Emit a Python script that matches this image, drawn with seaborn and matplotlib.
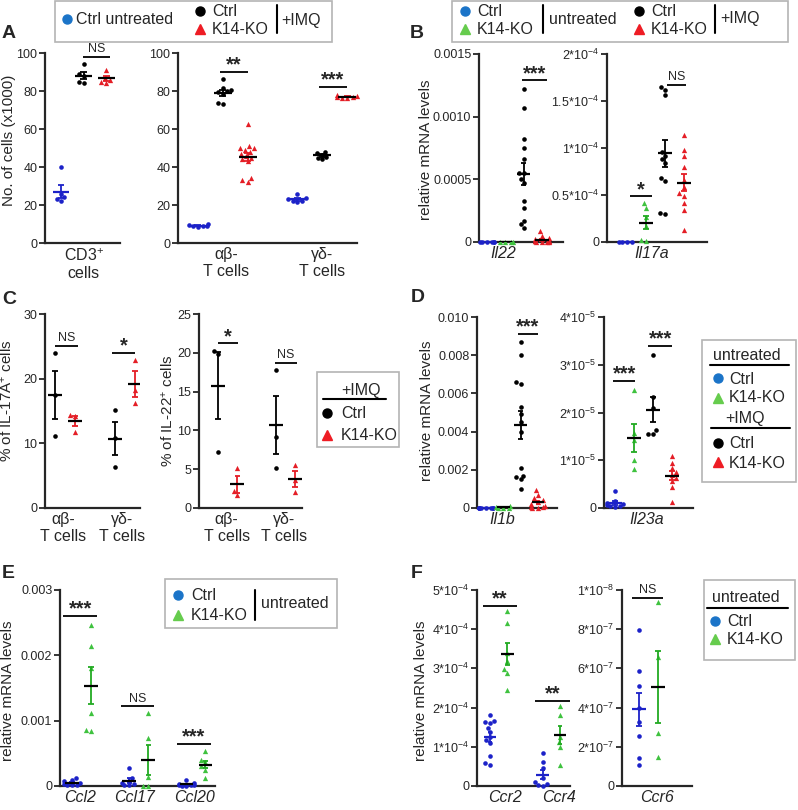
import numpy as np
import matplotlib
matplotlib.use("Agg")
import matplotlib.pyplot as plt
import seaborn as sns
from matplotlib.patches import Rectangle

sns.set_style("ticks")
plt.rcParams["font.family"] = ["Liberation Sans", "DejaVu Sans"]
plt.rcParams["mathtext.fontset"] = "custom"
plt.rcParams["mathtext.rm"] = "Liberation Sans"
plt.rcParams["mathtext.it"] = "Liberation Sans:italic"
plt.rcParams["mathtext.bf"] = "Liberation Sans:bold"

# ---------------- data ----------------
# Panel A: No. of cells (x1000)
A_cd3_ctrl_untr = [40, 26, 24, 22, 23]
A_cd3_ctrl_imq = [94, 89, 84, 85, 88]
A_cd3_ko_imq = [91, 87, 86, 84, 85]
A_ab_ctrl_untr = [9.5, 9.0, 8.5, 10.0, 9.0, 8.8]
A_ab_ctrl_imq = [86.5, 81.5, 80.5, 80.0, 79.5, 78.5, 73.5, 73.0]
A_ab_ko_imq = [62.5, 51, 50, 50, 49, 48, 47, 46, 45, 44, 43, 34, 33, 32]
A_gd_ctrl_untr = [26, 23.5, 23, 22, 22, 21.5]
A_gd_ctrl_imq = [48, 47.5, 46.5, 45.5, 44, 45]
A_gd_ko_imq = [78, 77.5, 77, 76.5, 76.5, 77]
A_yticks = [0, 20, 40, 60, 80, 100]
A1_xlabels = ["CD3$^{+}$\ncells"]
A2_xlabels = ["αβ-\nT cells", "γδ-\nT cells"]

# Panel B: relative mRNA levels
B_il22_ctrl_untr = [2e-6, 1e-6, 1.5e-6, 0.5e-6, 1e-6, 2e-6]
B_il22_ko_untr = [1e-6, 0.5e-6, 1.5e-6, 1e-6]
B_il22_ctrl_imq = [0.00122, 0.00107, 0.00082, 0.00075, 0.00066, 0.00055, 0.00055,
                   0.00050, 0.00047, 0.00033, 0.00027, 0.00017, 0.00014, 0.00011]
B_il22_ko_imq = [9e-5, 5e-5, 3e-5, 2e-5, 1e-5, 5e-6, 3e-6, 2e-6, 1e-6, 1e-5, 5e-6, 3e-6]
B_il17a_ctrl_untr = [2e-7, 1e-7, 3e-7, 2e-7]
B_il17a_ko_untr = [4.1e-5, 3.6e-5, 2.7e-5, 1.7e-5, 2e-6, 1e-6]
B_il17a_ctrl_imq = [1.65e-4, 1.62e-4, 1.56e-4, 9.6e-5, 9.2e-5, 8.8e-5, 8.4e-5, 6.8e-5, 6.5e-5, 3.1e-5, 3.0e-5]
B_il17a_ko_imq = [1.14e-4, 9.8e-5, 9.1e-5, 8.0e-5, 6.6e-5, 5.8e-5, 5.2e-5, 4.9e-5, 4.1e-5, 3.4e-5, 1.3e-5]
B1_yticks = [0, 0.0005, 0.0010, 0.0015]
B1_yticklabels = ["0", "0.0005", "0.0010", "0.0015"]
B2_yticks = [0, 0.5e-4, 1e-4, 1.5e-4, 2e-4]
B2_yticklabels = ["0", "0.5*10$^{-4}$", "1*10$^{-4}$", "1.5*10$^{-4}$", "2*10$^{-4}$"]

# Panel C: % of cytokine+ cells
C_il17_ab_ctrl = [24.0, 17.4, 11.2]
C_il17_ab_ko = [14.4, 14.2, 11.8]
C_il17_gd_ctrl = [15.1, 10.8, 6.3]
C_il17_gd_ko = [22.9, 18.3, 16.3]
C_il22_ab_ctrl = [20.2, 19.9, 7.2]
C_il22_ab_ko = [5.2, 2.2, 1.7]
C_il22_gd_ctrl = [17.8, 9.2, 5.1]
C_il22_gd_ko = [5.5, 3.6, 2.0]
C1_yticks = [0, 10, 20, 30]
C2_yticks = [0, 5, 10, 15, 20, 25]
C_xlabels = ["αβ-\nT cells", "γδ-\nT cells"]

# Panel D
D_il1b_ctrl_untr = [2e-5, 1e-5, 0.5e-5, 1e-5, 0.8e-5, 1.5e-5, 0.5e-5, 1e-5]
D_il1b_ko_untr = [8e-5, 4e-5, 2e-5, 1e-5, 0.5e-5]
D_il1b_ctrl_imq = [0.0087, 0.0080, 0.0066, 0.0065, 0.0053, 0.0049, 0.0045, 0.0040,
                   0.0021, 0.0017, 0.0016, 0.0015, 0.0010]
D_il1b_ko_imq = [0.00095, 0.0007, 0.0005, 0.0004, 0.0003, 0.0002, 0.0001, 5e-5, 3e-5, 2e-5, 1e-5]
D_il23a_ctrl_untr = [3.6e-6, 1.5e-6, 1.0e-6, 0.8e-6, 0.6e-6, 0.5e-6, 0.4e-6, 0.3e-6]
D_il23a_ko_untr = [2.48e-5, 1.57e-5, 1.43e-5, 1.0e-5, 0.82e-5]
D_il23a_ctrl_imq = [3.21e-5, 2.33e-5, 2.09e-5, 1.63e-5, 1.55e-5, 1.55e-5]
D_il23a_ko_imq = [1.08e-5, 0.94e-5, 0.83e-5, 0.75e-5, 0.70e-5, 0.63e-5, 0.56e-5, 0.45e-5, 0.13e-5]
D1_yticks = [0, 0.002, 0.004, 0.006, 0.008, 0.010]
D1_yticklabels = ["0", "0.002", "0.004", "0.006", "0.008", "0.010"]
D2_yticks = [0, 1e-5, 2e-5, 3e-5, 4e-5]
D2_yticklabels = ["0", "1*10$^{-5}$", "2*10$^{-5}$", "3*10$^{-5}$", "4*10$^{-5}$"]

# Panel E
E_ccl2_ctrl = [0.00013, 0.00009, 0.00007, 0.00005, 0.00003, 0.00002, 0.00001, 0.00001]
E_ccl2_ko = [0.00247, 0.00214, 0.0018, 0.00111, 0.00086, 0.00084]
E_ccl17_ctrl = [0.00027, 0.00013, 0.00008, 0.00005, 0.00003, 0.00001, 0.00001]
E_ccl17_ko = [0.00112, 0.00074, 0.00014, 0.0, 0.0]
E_ccl20_ctrl = [0.00009, 0.00005, 0.00003, 0.00002, 0.00001, 0.00001, 0.0, 0.0]
E_ccl20_ko = [0.00053, 0.0004, 0.00036, 0.0003, 0.00025, 0.00013]
E_yticks = [0, 0.001, 0.002, 0.003]
E_yticklabels = ["0", "0.001", "0.002", "0.003"]
E_xlabels = ["Ccl2", "Ccl17", "Ccl20"]

# Panel F
F_ccr2_ctrl = [1.80e-4, 1.65e-4, 1.62e-4, 1.60e-4, 1.48e-4, 1.37e-4, 1.25e-4, 1.18e-4,
               1.10e-4, 0.77e-4, 0.58e-4, 0.54e-4]
F_ccr2_ko = [4.47e-4, 4.17e-4, 3.40e-4, 3.20e-4, 2.98e-4, 2.88e-4, 2.45e-4]
F_ccr4_ctrl = [0.84e-4, 0.62e-4, 0.45e-4, 0.20e-4, 0.10e-4, 0.05e-4, 0.02e-4, 0.01e-4]
F_ccr4_ko = [2.03e-4, 1.82e-4, 1.26e-4, 1.13e-4, 1.0e-4, 0.54e-4]
F_ccr6_ctrl = [7.95e-7, 5.89e-7, 5.10e-7, 4.0e-7, 3.29e-7, 2.53e-7, 1.42e-7, 1.08e-7]
F_ccr6_ko = [9.4e-7, 6.6e-7, 2.7e-7, 1.5e-7]
F1_yticks = [0, 1e-4, 2e-4, 3e-4, 4e-4, 5e-4]
F1_yticklabels = ["0", "1*10$^{-4}$", "2*10$^{-4}$", "3*10$^{-4}$", "4*10$^{-4}$", "5*10$^{-4}$"]
F2_yticks = [0, 2e-7, 4e-7, 6e-7, 8e-7, 1e-6]
F2_yticklabels = ["0", "2*10$^{-7}$", "4*10$^{-7}$", "6*10$^{-7}$", "8*10$^{-7}$", "1*10$^{-8}$"]
F1_xlabels = ["Ccr2", "Ccr4"]
F2_xlabels = ["Ccr6"]

# ---------------- style ----------------
W, H = 798, 810
STY = {
    "cu": dict(color="#1c22c8", marker="o", err="#1c22c8", size=3.3),
    "ku": dict(color="#3fc23f", marker="^", err="#22aa22", size=3.8),
    "ci": dict(color="black", marker="o", err="black", size=3.3),
    "ki": dict(color="#e41e26", marker="^", err="#e41e26", size=3.8),
}
LEG = {
    "cu": ("#1b74c8", "o", 6.5),
    "ku": ("#66cc4d", "^", 7.5),
    "ci": ("black", "o", 6.5),
    "ki": ("#ee1c24", "^", 7.5),
}

fig = plt.figure(figsize=(W / 100, H / 100), dpi=100)


def px_axes(x0, x1, y0, y1):
    return fig.add_axes([x0 / W, 1 - y1 / H, (x1 - x0) / W, (y1 - y0) / H])


def draw_group(ax, pos, vals, key, mean_color="black"):
    s = STY[key]
    vals = np.asarray(vals, dtype=float)
    sns.swarmplot(x=np.full(len(vals), float(pos)), y=vals, ax=ax, native_scale=True,
                  orient="x", color=s["color"], marker=s["marker"], size=s["size"],
                  linewidth=0, warn_thresh=1, zorder=3, clip_on=False)
    m = vals.mean()
    se = vals.std(ddof=1) / np.sqrt(len(vals))
    ax.vlines(pos, m - se, m + se, color=s["err"], lw=1.3, zorder=4)
    ax.hlines([m - se, m + se], pos - 0.14, pos + 0.14, color=s["err"], lw=1.3, zorder=4)
    ax.hlines(m, pos - 0.36, pos + 0.36, color=mean_color, lw=1.6, zorder=5)


def sig(ax, x1, x2, y, txt):
    ax.plot([x1, x2], [y, y], color="k", lw=1.3, clip_on=False, solid_capstyle="butt")
    xm = (x1 + x2) / 2
    if txt == "NS":
        ax.annotate(txt, (xm, y), xytext=(0, 1.2), textcoords="offset points",
                    ha="center", va="bottom", fontsize=9, annotation_clip=False)
    else:
        ax.annotate(txt, (xm, y), xytext=(0, 1.0), textcoords="offset points",
                    ha="center", va="baseline", fontsize=14.5, fontweight="bold",
                    annotation_clip=False)


def panel(box, groups, xlim, ylim, yticks, yticklabels, xticks, xticklabels,
          italic=False, sigs=(), blue_mean="#1c22c8"):
    ax = px_axes(*box)
    for pos, vals, key in groups:
        mc = blue_mean if key == "cu" else "black"
        draw_group(ax, pos, vals, key, mean_color=mc)
    for x1, x2, y, t in sigs:
        sig(ax, x1, x2, y, t)
    ax.set_xlim(*xlim)
    ax.set_ylim(*ylim)
    ax.set_yticks(yticks)
    ax.set_yticklabels(yticklabels, fontsize=9)
    ax.set_xticks(xticks)
    ax.set_xticklabels(xticklabels, fontsize=11.5,
                       fontstyle="italic" if italic else "normal", linespacing=1.15)
    ax.tick_params(axis="x", length=0, pad=3)
    ax.tick_params(axis="y", length=4, width=1.3, pad=1.5, direction="out")
    for s in ["top", "right"]:
        ax.spines[s].set_visible(False)
    for s in ["left", "bottom"]:
        ax.spines[s].set_linewidth(1.6)
    ax.set_facecolor("none")
    ax.set_xlabel("")
    ax.set_ylabel("")
    return ax


# ---------------- panels ----------------
panel((45, 120, 53, 243),
      [(0, A_cd3_ctrl_untr, "cu"), (1, A_cd3_ctrl_imq, "ci"), (2, A_cd3_ko_imq, "ki")],
      (-0.7, 2.6), (0, 100), A_yticks, [str(v) for v in A_yticks], [1], A1_xlabels,
      sigs=[(0.97, 2.15, 98, "NS")])

panel((178, 357, 53, 243),
      [(0, A_ab_ctrl_untr, "cu"), (1, A_ab_ctrl_imq, "ci"), (2, A_ab_ko_imq, "ki"),
       (4, A_gd_ctrl_untr, "cu"), (5, A_gd_ctrl_imq, "ci"), (6, A_gd_ko_imq, "ki")],
      (-0.8, 6.4), (0, 100), A_yticks, [str(v) for v in A_yticks], [1.15, 5.0], A2_xlabels,
      sigs=[(0.89, 2.0, 90, "**"), (4.86, 6.0, 82, "***")])

panel((479, 563, 54, 242),
      [(0, B_il22_ctrl_untr, "cu"), (1, B_il22_ko_untr, "ku"), (2, B_il22_ctrl_imq, "ci"),
       (3, B_il22_ko_imq, "ki")],
      (-0.44, 4.15), (0, 0.0015), B1_yticks, B1_yticklabels, [0.87], ["Il22"], italic=True,
      sigs=[(1.9, 3.3, 0.00129, "***")])

panel((607, 707, 54, 242),
      [(0, B_il17a_ctrl_untr, "cu"), (1, B_il17a_ko_untr, "ku"), (2, B_il17a_ctrl_imq, "ci"),
       (3, B_il17a_ko_imq, "ki")],
      (-1.05, 4.2), (0, 2e-4), B2_yticks, B2_yticklabels, [1.3], ["Il17a"], italic=True,
      sigs=[(0.16, 1.3, 0.486e-4, "*"), (2.1, 3.1, 1.67e-4, "NS")])

panel((45, 140, 314, 508),
      [(0, C_il17_ab_ctrl, "ci"), (1, C_il17_ab_ko, "ki"), (3, C_il17_gd_ctrl, "ci"),
       (4, C_il17_gd_ko, "ki")],
      (-0.5, 4.25), (0, 30), C1_yticks, [str(v) for v in C1_yticks], [0.4, 3.35], C_xlabels,
      sigs=[(0.0, 1.15, 25.1, "NS"), (2.85, 4.0, 24.0, "*")])

panel((199, 302, 314, 508),
      [(0, C_il22_ab_ctrl, "ci"), (1, C_il22_ab_ko, "ki"), (3, C_il22_gd_ctrl, "ci"),
       (4, C_il22_gd_ko, "ki")],
      (-0.99, 4.36), (0, 25), C2_yticks, [str(v) for v in C2_yticks], [0.45, 3.45], C_xlabels,
      sigs=[(0.0, 1.05, 21.2, "*"), (2.96, 4.1, 18.7, "NS")])

panel((477, 557, 317, 508),
      [(0, D_il1b_ctrl_untr, "cu"), (1, D_il1b_ko_untr, "ku"), (2, D_il1b_ctrl_imq, "ci"),
       (3, D_il1b_ko_imq, "ki")],
      (-0.52, 4.1), (0, 0.010), D1_yticks, D1_yticklabels, [0.92], ["Il1b"], italic=True,
      sigs=[(1.85, 3.0, 0.0091, "***")])

panel((604, 693, 317, 508),
      [(0, D_il23a_ctrl_untr, "cu"), (1, D_il23a_ko_untr, "ku"), (2, D_il23a_ctrl_imq, "ci"),
       (3, D_il23a_ko_imq, "ki")],
      (-0.58, 4.1), (0, 4e-5), D2_yticks, D2_yticklabels, [1.68], ["Il23a"], italic=True,
      sigs=[(-0.1, 1.05, 2.66e-5, "***"), (1.75, 3.0, 3.39e-5, "***")])

panel((60, 215, 590, 786),
      [(0, E_ccl2_ctrl, "cu"), (1, E_ccl2_ko, "ku"), (3, E_ccl17_ctrl, "cu"),
       (4, E_ccl17_ko, "ku"), (6, E_ccl20_ctrl, "cu"), (7, E_ccl20_ko, "ku")],
      (-0.63, 7.5), (0, 0.003), E_yticks, E_yticklabels, [0.4, 3.3, 6.45], E_xlabels,
      italic=True, blue_mean="black",
      sigs=[(-0.47, 1.32, 0.0026, "***"), (2.57, 4.3, 0.00122, "NS"), (5.5, 7.3, 0.00065, "***")])

panel((477, 570, 590, 786),
      [(0, F_ccr2_ctrl, "cu"), (1, F_ccr2_ko, "ku"), (3, F_ccr4_ctrl, "cu"), (4, F_ccr4_ko, "ku")],
      (-0.74, 4.57), (0, 5e-4), F1_yticks, F1_yticklabels, [0.86, 3.95], F1_xlabels, italic=True,
      sigs=[(-0.4, 1.55, 4.6e-4, "**"), (2.6, 4.57, 2.18e-4, "**")])

panel((622, 692, 590, 786),
      [(0, F_ccr6_ctrl, "cu"), (1, F_ccr6_ko, "ku")],
      (-0.9, 2.8), (0, 1e-6), F2_yticks, F2_yticklabels, [0.95], F2_xlabels, italic=True,
      sigs=[(-0.37, 1.26, 9.6e-7, "NS")])

# ---------------- overlay: legends, labels ----------------
ov = fig.add_axes([0, 0, 1, 1], zorder=10)
ov.set_xlim(0, W)
ov.set_ylim(H, 0)
ov.axis("off")


def lbox(x0, y0, x1, y1):
    ov.add_patch(Rectangle((x0, y0), x1 - x0, y1 - y0, facecolor="white",
                           edgecolor="#b4b4b4", lw=1.2, zorder=1))


def lmk(x, y, key):
    c, m, ms = LEG[key]
    ov.plot([x], [y], marker=m, ms=ms, color=c, linestyle="none", zorder=3)


def ltx(x, y, s, ha="left", size=11.5):
    ov.text(x, y, s, ha=ha, va="center", fontsize=size, zorder=3)


def lline(x0, x1, y0, y1):
    ov.plot([x0, x1], [y0, y1], color="black", lw=1.5, zorder=3)


# legend A
lbox(55, 1, 332, 42)
lmk(67, 19, "cu"); ltx(76, 19, "Ctrl untreated")
lmk(200, 11, "ci"); ltx(212, 12, "Ctrl")
lmk(200, 29, "ki"); ltx(212, 30, "K14-KO")
lline(277, 277, 5, 33); ltx(281, 20, "+IMQ")

# legend B
lbox(452, 1, 788, 42)
lmk(465, 11, "cu"); ltx(477, 12, "Ctrl")
lmk(465, 29, "ku"); ltx(477, 30, "K14-KO")
lline(543, 543, 5, 33); ltx(549, 19, "untreated")
lmk(639, 11, "ci"); ltx(651, 12, "Ctrl")
lmk(639, 29, "ki"); ltx(651, 30, "K14-KO")
lline(715, 715, 5, 33); ltx(720, 19, "+IMQ")

# legend C
lbox(317, 372, 399, 447)
ltx(361, 391, "+IMQ", ha="center")
lline(323, 386, 399, 399)
lmk(327, 413, "ci"); ltx(341, 413, "Ctrl")
lmk(327, 435, "ki"); ltx(341, 435, "K14-KO")

# legend D
lbox(702, 340, 796, 482)
ltx(747, 355, "untreated", ha="center")
lline(710, 789, 365, 365)
lmk(718, 378, "cu"); ltx(729, 379, "Ctrl")
lmk(718, 398, "ku"); ltx(729, 398, "K14-KO")
ltx(745, 419, "+IMQ", ha="center")
lline(711, 790, 428, 428)
lmk(718, 443, "ci"); ltx(729, 443, "Ctrl")
lmk(718, 462, "ki"); ltx(729, 463, "K14-KO")

# legend E
lbox(165, 579, 337, 628)
lmk(178, 595, "cu"); ltx(191, 595, "Ctrl")
lmk(178, 615, "ku"); ltx(191, 616, "K14-KO")
lline(255, 255, 590, 620); ltx(261, 603, "untreated")

# legend F
lbox(704, 580, 795, 660)
ltx(746, 597, "untreated", ha="center")
lline(707, 788, 608, 608)
lmk(715, 621, "cu"); ltx(727, 621, "Ctrl")
lmk(715, 639, "ku"); ltx(727, 639, "K14-KO")

# panel letters
for x, y, s in [(2, 34, "A"), (410, 34, "B"), (2, 300, "C"), (411, 298, "D"),
                (2, 573, "E"), (411, 573, "F")]:
    ov.text(x, y, s, ha="left", va="center", fontsize=14, fontweight="bold")

# y-axis titles
for x, y, s in [(9, 140, "No. of cells (x1000)"), (426, 150, "relative mRNA levels"),
                (7, 401, "% of IL-17A$^{+}$ cells"), (168, 411, "% of IL-22$^{+}$ cells"),
                (427, 411, "relative mRNA levels"), (8, 691, "relative mRNA levels"),
                (421, 691, "relative mRNA levels")]:
    ov.text(x, y, s, rotation=90, ha="center", va="center", fontsize=11)

fig.savefig("out.png", dpi=100)
